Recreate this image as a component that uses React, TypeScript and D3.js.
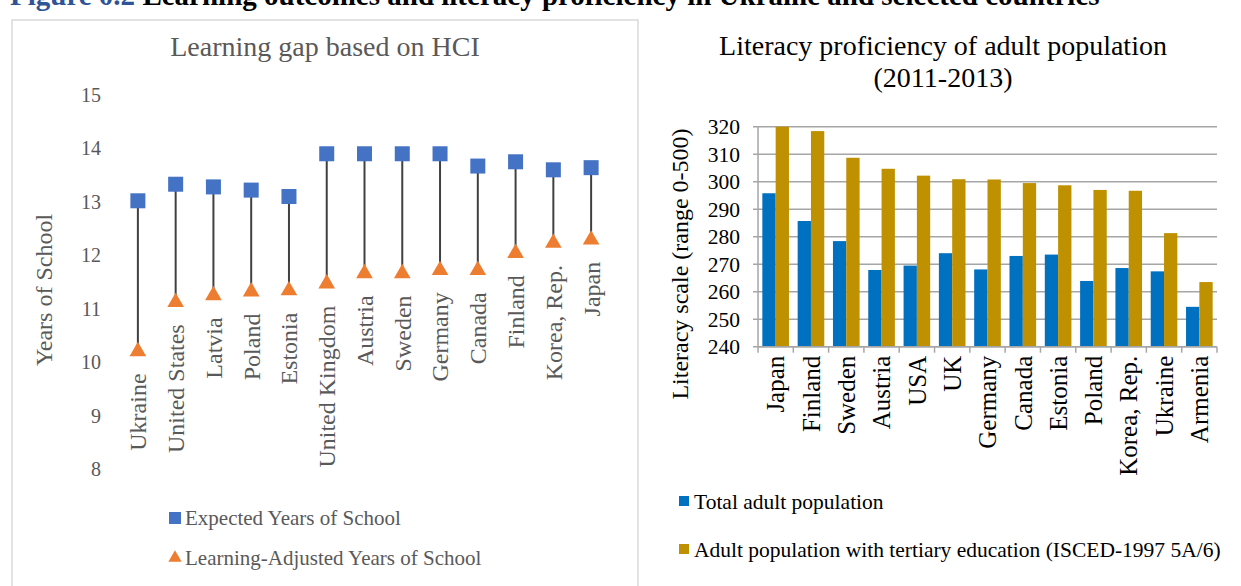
import React from "react";
import * as d3 from "d3";

// Human Capital Index: expected vs learning-adjusted years of school
const hciCountries = [
  "Ukraine", "United States", "Latvia", "Poland", "Estonia", "United Kingdom",
  "Austria", "Sweden", "Germany", "Canada", "Finland", "Korea, Rep.", "Japan",
];
const expectedYears = [13.02, 13.33, 13.28, 13.22, 13.1, 13.9, 13.9, 13.9, 13.9, 13.67, 13.75, 13.6, 13.64];
const learningAdjustedYears = [10.2, 11.12, 11.25, 11.32, 11.34, 11.47, 11.66, 11.66, 11.72, 11.72, 12.04, 12.23, 12.29];
const yearTicks = [8, 9, 10, 11, 12, 13, 14, 15];

// PIAAC literacy scores of adults
const literacyCountries = [
  "Japan", "Finland", "Sweden", "Austria", "USA", "UK", "Germany", "Canada",
  "Estonia", "Poland", "Korea, Rep.", "Ukraine", "Armenia",
];
const totalAdult = [295.8, 285.7, 278.4, 267.9, 269.5, 274.0, 268.1, 273.0, 273.5, 263.9, 268.6, 267.4, 254.5];
const tertiaryAdult = [320, 318.4, 308.7, 304.7, 302.2, 300.9, 300.8, 299.5, 298.7, 297.0, 296.7, 281.3, 263.5];
const literacyTicks = [240, 250, 260, 270, 280, 290, 300, 310, 320];

const FONT = "'Liberation Serif', 'Times New Roman', serif";
const GREY_TEXT = "#595959";
const SQUARE = "#4472C4";
const TRIANGLE = "#ED7D31";
const BLUE = "#0070C0";
const GOLD = "#BF9000";
const GRID = "#A6A6A6";

function HciPanel() {
  const x = d3.scaleBand<string>().domain(hciCountries).range([119, 610]);
  const y = d3.scaleLinear().domain([8, 15]).range([469, 95]);
  const cx = (c: string) => (x(c) ?? 0) + x.bandwidth() / 2;
  const tri = d3.symbol().type(d3.symbolTriangle).size(120)();

  return (
    <g fontFamily={FONT}>
      {/* panel frame */}
      <path d="M12,586 V20 H638 V586" fill="none" stroke="#D9D9D9" strokeWidth={1.5} />
      <text x={325} y={56} textAnchor="middle" fontSize={28} fill={GREY_TEXT}>
        Learning gap based on HCI
      </text>

      {yearTicks.map((t) => (
        <text key={t} x={101} y={y(t)} dy="0.35em" textAnchor="end" fontSize={20} fill={GREY_TEXT}>
          {t}
        </text>
      ))}
      <text
        transform={`translate(44,290) rotate(-90)`}
        dy="0.35em"
        textAnchor="middle"
        fontSize={24}
        fill={GREY_TEXT}
      >
        Years of School
      </text>

      {hciCountries.map((c, i) => {
        const px = cx(c);
        const yHigh = y(expectedYears[i]);
        const yLow = y(learningAdjustedYears[i]);
        return (
          <g key={c}>
            <line x1={px} x2={px} y1={yHigh} y2={yLow} stroke="#404040" strokeWidth={2} />
            <rect x={px - 7.5} y={yHigh - 7.5} width={15} height={15} fill={SQUARE} />
            <path d={tri ?? ""} transform={`translate(${px},${yLow})`} fill={TRIANGLE} />
            <text
              transform={`translate(${px},${yLow + 22}) rotate(-90)`}
              dy="0.35em"
              textAnchor="end"
              fontSize={24}
              fill={GREY_TEXT}
            >
              {c}
            </text>
          </g>
        );
      })}

      {/* legend */}
      <rect x={169} y={512} width={12} height={12} fill={SQUARE} />
      <text x={185} y={518} dy="0.35em" fontSize={21} fill={GREY_TEXT}>
        Expected Years of School
      </text>
      <path d={tri ?? ""} transform={`translate(175,558) scale(0.8)`} fill={TRIANGLE} />
      <text x={185} y={558} dy="0.35em" fontSize={21} fill={GREY_TEXT}>
        Learning-Adjusted Years of School
      </text>
    </g>
  );
}

function LiteracyPanel() {
  const x = d3.scaleBand<string>().domain(literacyCountries).range([758, 1217]);
  const y = d3.scaleLinear().domain([240, 320]).range([346.7, 126.7]);
  const bw = x.bandwidth() * 0.377;
  const [x0, x1] = x.range();
  const y0 = y(240);
  const boundaries = d3.range(literacyCountries.length + 1).map((i) => x0 + i * x.bandwidth());

  return (
    <g fontFamily={FONT}>
      <text x={943} y={55} textAnchor="middle" fontSize={28} fill="#000">
        Literacy proficiency of adult population
      </text>
      <text x={943} y={87} textAnchor="middle" fontSize={28} fill="#000">
        (2011-2013)
      </text>

      {literacyTicks.map((t) => (
        <g key={t}>
          <line x1={x0 - 5} x2={x1} y1={y(t)} y2={y(t)} stroke={GRID} strokeWidth={1.5} />
          <text x={740} y={y(t)} dy="0.35em" textAnchor="end" fontSize={21.5} fill="#000">
            {t}
          </text>
        </g>
      ))}
      <line x1={x0} x2={x0} y1={y(320)} y2={y0} stroke={GRID} strokeWidth={1.5} />

      {literacyCountries.map((c, i) => {
        const bx = x(c) ?? 0;
        const mid = bx + x.bandwidth() / 2;
        return (
          <g key={c}>
            <rect x={mid - bw} y={y(totalAdult[i])} width={bw} height={y0 - y(totalAdult[i])} fill={BLUE} />
            <rect x={mid} y={y(tertiaryAdult[i])} width={bw} height={y0 - y(tertiaryAdult[i])} fill={GOLD} />
            <text
              transform={`translate(${mid},${y0 + 9}) rotate(-90)`}
              dy="0.35em"
              textAnchor="end"
              fontSize={25}
              fill="#000"
            >
              {c}
            </text>
          </g>
        );
      })}
      <line x1={x0} x2={x1} y1={y0} y2={y0} stroke={GRID} strokeWidth={1.5} />
      {boundaries.map((b, i) => (
        <line key={i} x1={b} x2={b} y1={y0} y2={y0 + 6} stroke={GRID} strokeWidth={1.5} />
      ))}

      <text
        transform={`translate(680,264) rotate(-90)`}
        dy="0.35em"
        textAnchor="middle"
        fontSize={24}
        fill="#000"
      >
        Literacy scale (range 0-500)
      </text>

      {/* legend */}
      <rect x={679} y={496} width={10} height={10} fill={BLUE} />
      <text x={694} y={501} dy="0.35em" fontSize={21.5} fill="#000">
        Total adult population
      </text>
      <rect x={679} y={544} width={10} height={10} fill={GOLD} />
      <text x={694} y={549} dy="0.35em" fontSize={21.5} fill="#000">
        Adult population with tertiary education (ISCED-1997 5A/6)
      </text>
    </g>
  );
}

export default function App() {
  return (
    <svg
      width={1241}
      height={586}
      style={{ position: "absolute", left: 0, top: 0, background: "#fff" }}
    >
      <text x={10} y={5} fontFamily={FONT} fontSize={29} fontWeight="bold">
        <tspan fill="#2F5496">Figure 0.2 </tspan>
        <tspan fill="#000">Learning outcomes and literacy proficiency in Ukraine and selected countries</tspan>
      </text>
      <HciPanel />
      <LiteracyPanel />
    </svg>
  );
}
